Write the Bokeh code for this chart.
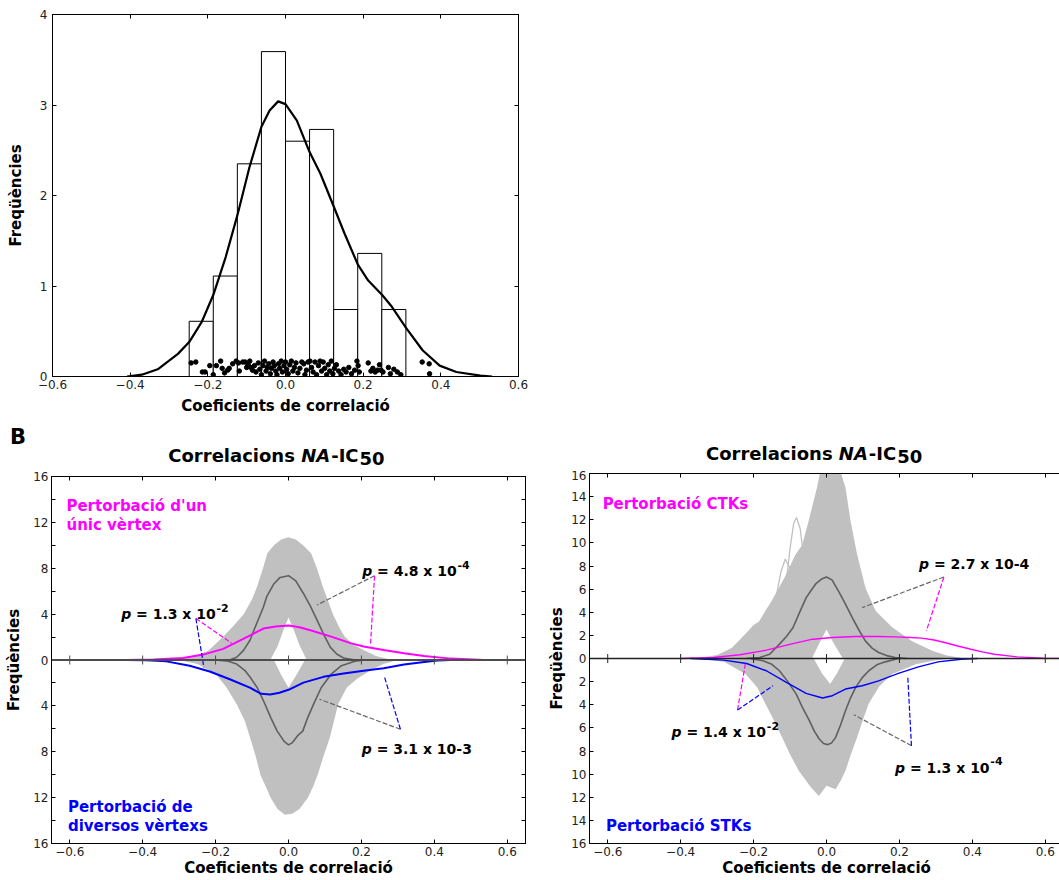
import math
from bokeh.plotting import figure
from bokeh.models import (Label, LinearAxis, FixedTicker, Range1d,
                          CustomJSTickFormatter, Span, Div)
from bokeh.layouts import column, row
from bokeh.embed import file_html
from bokeh.resources import INLINE

FONT = "DejaVu Sans"

# ---------------- Panel A : histogram, KDE, rug ----------------
hist_edges = [-0.248, -0.186, -0.124, -0.062, 0.0, 0.062, 0.124, 0.186, 0.248, 0.310]
hist_density = [0.61, 1.11, 2.35, 3.59, 2.60, 2.73, 0.74, 1.36, 0.74]

kde_x = [-0.408, -0.37, -0.329, -0.277, -0.248, -0.216, -0.186, -0.154, -0.124, -0.093,
         -0.062, -0.041, -0.019, 0.000, 0.029, 0.062, 0.090, 0.125, 0.152, 0.186,
         0.213, 0.249, 0.274, 0.310, 0.353, 0.397, 0.440, 0.502, 0.532]
kde_y = [0.0, 0.02, 0.08, 0.25, 0.38, 0.60, 0.90, 1.32, 1.78, 2.31,
         2.76, 2.94, 3.04, 3.01, 2.83, 2.48, 2.24, 1.87, 1.58, 1.24,
         1.06, 0.90, 0.77, 0.54, 0.29, 0.12, 0.05, 0.01, 0.0]

rug_x = [-0.243, -0.231, -0.214, -0.207, -0.195, -0.186, -0.178, -0.167, -0.163, -0.157,
         -0.149, -0.145, -0.136, -0.127, -0.121, -0.119, -0.110, -0.104, -0.100, -0.096,
         -0.092, -0.089, -0.085, -0.080, -0.076, -0.070, -0.066, -0.062, -0.058, -0.054,
         -0.050, -0.047, -0.043, -0.039, -0.036, -0.032, -0.029, -0.025, -0.022, -0.018,
         -0.015, -0.011, -0.008, -0.004, 0.000, 0.003, 0.007, 0.011, 0.015, 0.019,
         0.023, 0.027, 0.032, 0.037, 0.042, 0.047, 0.050, 0.054, 0.058, 0.063,
         0.067, 0.071, 0.076, 0.080, 0.085, 0.089, 0.093, 0.097, 0.101, 0.106,
         0.110, 0.114, 0.118, 0.122, 0.126, 0.131, 0.137, 0.143, 0.150, 0.156,
         0.163, 0.170, 0.178, 0.184, 0.187, 0.190, 0.213, 0.220, 0.225, 0.231,
         0.237, 0.242, 0.246, 0.251, 0.265, 0.270, 0.279, 0.288, 0.297, 0.352,
         0.370, 0.371]
rug_y = [0.15, 0.16, 0.05, 0.05, 0.12, 0.02, 0.12, 0.17, 0.09, 0.04,
         0.07, 0.09, 0.14, 0.17, 0.15, 0.06, 0.16, 0.16, 0.10, 0.13,
         0.17, 0.10, 0.07, 0.12, 0.05, 0.15, 0.08, 0.02, 0.12, 0.17,
         0.06, 0.10, 0.14, 0.03, 0.09, 0.16, 0.12, 0.06, 0.02, 0.14,
         0.09, 0.17, 0.05, 0.12, 0.16, 0.08, 0.03, 0.13, 0.17, 0.06,
         0.10, 0.15, 0.04, 0.09, 0.16, 0.14, 0.02, 0.07, 0.16, 0.17,
         0.10, 0.05, 0.16, 0.02, 0.12, 0.17, 0.06, 0.16, 0.09, 0.02,
         0.13, 0.06, 0.17, 0.03, 0.09, 0.13, 0.06, 0.02, 0.08, 0.05,
         0.10, 0.03, 0.07, 0.17, 0.12, 0.05, 0.15, 0.06, 0.09, 0.05,
         0.07, 0.13, 0.07, 0.05, 0.10, 0.03, 0.08, 0.05, 0.02, 0.16,
         0.14, 0.03]

# ---------------- Panel B left (single vertex vs several vertices) ----------------
envU_L_x = [-0.32, -0.27, -0.22, -0.18, -0.15, -0.123, -0.10, -0.086, -0.07, -0.058, -0.04, -0.02, 0.0,
            0.02, 0.04, 0.062, 0.078, 0.094, 0.108, 0.122, 0.14, 0.155, 0.18, 0.21, 0.24, 0.27, 0.30]
envU_L_y = [0, 0.2, 0.8, 2.0, 3.0, 4.0, 5.3, 6.4, 8.0, 9.3, 10.0, 10.5, 10.7,
            10.5, 10.0, 9.3, 8.0, 6.4, 5.2, 4.0, 2.8, 2.0, 1.3, 0.8, 0.35, 0.1, 0]
holeU_L_x = [-0.05, -0.03, -0.015, 0.0, 0.015, 0.03, 0.05]
holeU_L_y = [0, 1.2, 2.5, 3.7, 2.6, 1.3, 0]
envD_L_x = [-0.30, -0.25, -0.20, -0.17, -0.142, -0.12, -0.105, -0.09, -0.077, -0.06, -0.049, -0.03, -0.01,
            0.01, 0.03, 0.053, 0.068, 0.08, 0.097, 0.113, 0.125, 0.136, 0.16, 0.19, 0.22, 0.26, 0.30]
envD_L_y = [0, -0.35, -1.2, -2.4, -3.85, -5.3, -6.8, -8.4, -10.0, -11.2, -12.0, -13.0, -13.5,
            -13.4, -13.0, -12.0, -11.0, -10.0, -8.3, -6.8, -5.3, -3.85, -2.4, -1.6, -1.0, -0.35, 0]
holeD_L_x = [-0.04, -0.02, 0.0, 0.02, 0.045]
holeD_L_y = [0, -1.3, -2.4, -1.4, 0]

meanU_L_x = [-0.19, -0.16, -0.142, -0.124, -0.106, -0.087, -0.069, -0.06, -0.041, -0.023, 0.0,
             0.02, 0.041, 0.06, 0.078, 0.097, 0.115, 0.133, 0.151, 0.179, 0.21]
meanU_L_y = [0, 0.02, 0.24, 0.82, 1.7, 3.2, 4.6, 5.5, 6.6, 7.2, 7.35,
             6.9, 5.8, 4.7, 3.5, 2.2, 1.1, 0.5, 0.18, 0.02, 0]
meanD_L_x = [-0.20, -0.165, -0.142, -0.12, -0.105, -0.086, -0.068, -0.049, -0.031, -0.012, 0.0,
             0.011, 0.025, 0.039, 0.053, 0.071, 0.09, 0.118, 0.145, 0.182, 0.21]
meanD_L_y = [0, -0.1, -0.35, -0.9, -1.5, -2.4, -3.6, -5.0, -6.2, -7.1, -7.4,
             -7.2, -6.6, -6.2, -5.0, -3.7, -2.4, -1.2, -0.5, -0.1, 0]

single_L_x = [-0.445, -0.37, -0.289, -0.234, -0.179, -0.124, -0.069, -0.035, 0.0, 0.03,
              0.06, 0.115, 0.17, 0.206, 0.261, 0.317, 0.372, 0.445, 0.537]
single_L_y = [0, 0.05, 0.18, 0.47, 0.97, 1.85, 2.74, 2.93, 3.0, 2.85,
              2.59, 2.06, 1.47, 1.18, 0.88, 0.59, 0.35, 0.12, 0]
multi_L_x = [-0.445, -0.39, -0.335, -0.271, -0.216, -0.161, -0.106, -0.075, -0.05, -0.025,
             0.0, 0.041, 0.096, 0.151, 0.206, 0.261, 0.317, 0.372, 0.408, 0.445]
multi_L_y = [0, -0.03, -0.12, -0.5, -1.0, -1.68, -2.41, -2.95, -3.0, -2.85,
             -2.6, -1.97, -1.47, -1.18, -0.94, -0.71, -0.40, -0.17, -0.05, 0]

# ---------------- Panel B right (CTKs vs STKs) ----------------
envU_R_x = [-0.36, -0.30, -0.26, -0.22, -0.20, -0.185, -0.168, -0.15, -0.131, -0.115, -0.10, -0.085, -0.067,
            -0.049, -0.026, -0.015, 0.035, 0.052, 0.066, 0.084, 0.107, 0.135, 0.18, 0.235, 0.29, 0.33, 0.38]
envU_R_y = [0, 0.3, 0.9, 2.2, 2.9, 3.2, 4.1, 5.0, 6.1, 7.0, 8.0, 9.0, 9.8,
            11.9, 14.8, 16.5, 16.5, 14.8, 11.9, 9.0, 6.1, 4.1, 2.7, 1.5, 0.66, 0.25, 0]
holeU_R_x = [-0.04, -0.02, 0.0, 0.02, 0.045]
holeU_R_y = [0, 1.3, 2.5, 1.3, 0]
envD_R_x = [-0.34, -0.28, -0.222, -0.19, -0.168, -0.145, -0.122, -0.10, -0.076, -0.06, -0.044, -0.021, 0.0,
            0.025, 0.04, 0.052, 0.068, 0.084, 0.10, 0.116, 0.145, 0.18, 0.245, 0.30, 0.345]
envD_R_y = [0, -0.3, -1.35, -2.5, -3.9, -5.3, -6.8, -8.3, -9.7, -10.4, -11.1, -11.9, -11.0,
            -11.3, -10.5, -9.7, -8.2, -6.8, -5.3, -3.9, -2.4, -1.35, -0.5, -0.15, 0]
holeD_R_x = [-0.035, -0.012, 0.01, 0.03, 0.05]
holeD_R_y = [0, -1.3, -2.2, -1.2, 0]
loop1_R_x = [-0.17, -0.14, -0.125, -0.113, -0.10, -0.085, -0.065]
loop1_R_y = [2.0, 5.0, 7.5, 8.6, 7.8, 5.0, 2.5]
loop2_R_x = [-0.12, -0.10, -0.09, -0.082, -0.072, -0.06, -0.045]
loop2_R_y = [4.0, 9.5, 11.7, 12.2, 11.2, 8.0, 5.0]

meanU_R_x = [-0.22, -0.183, -0.156, -0.129, -0.11, -0.092, -0.075, -0.056, -0.042, -0.029, -0.012, 0.0,
             0.015, 0.034, 0.052, 0.071, 0.09, 0.107, 0.125, 0.143, 0.165, 0.188, 0.22]
meanU_R_y = [0, 0.09, 0.37, 1.24, 1.9, 2.66, 3.9, 5.24, 5.9, 6.47, 6.9, 7.05,
             6.8, 5.76, 4.7, 3.51, 2.4, 1.5, 0.9, 0.52, 0.25, 0.09, 0]
meanD_R_x = [-0.21, -0.174, -0.15, -0.129, -0.106, -0.083, -0.065, -0.047, -0.033, -0.02, -0.008, 0.003,
             0.014, 0.025, 0.038, 0.052, 0.066, 0.08, 0.097, 0.116, 0.138, 0.161, 0.197]
meanD_R_y = [0, -0.2, -0.5, -1.06, -2.0, -3.08, -4.3, -5.38, -6.3, -6.96, -7.35, -7.45,
             -7.3, -6.82, -5.8, -4.52, -3.4, -2.5, -1.7, -1.06, -0.55, -0.29, 0]

ctk_R_x = [-0.40, -0.31, -0.237, -0.165, -0.092, -0.038, 0.016, 0.08, 0.14, 0.188, 0.23,
           0.261, 0.295, 0.324, 0.36, 0.396, 0.43, 0.46, 0.523, 0.595, 0.65]
ctk_R_y = [0, 0.09, 0.32, 0.72, 1.29, 1.67, 1.81, 1.9, 1.9, 1.87, 1.82,
           1.76, 1.6, 1.38, 1.08, 0.8, 0.55, 0.37, 0.14, 0.03, 0.01]
stk_R_x = [-0.373, -0.282, -0.219, -0.165, -0.11, -0.056, -0.011, 0.016, 0.052, 0.098,
           0.143, 0.197, 0.252, 0.306, 0.369, 0.414]
stk_R_y = [0, -0.14, -0.43, -1.06, -2.07, -3.02, -3.42, -3.22, -2.64, -2.36,
           -1.93, -1.29, -0.72, -0.29, -0.06, 0]

# ---------------- annotations (p-values and dashed pointers) ----------------
pv_L = [(-0.459, 4.0, "1.3 x 10", "-2"), (0.202, 7.74, "4.8 x 10", "-4"), (0.201, -7.8, "3.1 x 10-3", "")]
pv_R = [(0.254, 8.14, "2.7 x 10-4", ""), (-0.425, -6.39, "1.4 x 10", "-2"), (0.188, -9.47, "1.3 x 10", "-4")]
ptr_L = [(-0.254, 3.62, -0.156, 1.47, "#ff00ff"), (-0.254, 3.62, -0.232, -0.65, "#0000ff"),
         (0.236, 7.35, 0.078, 4.79, "#666666"), (0.236, 7.35, 0.225, 1.41, "#ff00ff"),
         (0.307, -6.04, 0.085, -3.42, "#666666"), (0.307, -6.04, 0.263, -1.46, "#0000ff")]
ptr_R = [(0.322, 7.05, 0.098, 4.4, "#666666"), (0.322, 7.05, 0.274, 2.39, "#ff00ff"),
         (-0.244, -4.46, -0.222, -0.35, "#ff00ff"), (-0.244, -4.46, -0.147, -2.36, "#0000ff"),
         (0.233, -7.54, 0.075, -4.86, "#666666"), (0.233, -7.54, 0.223, -1.64, "#0000ff")]

x_ticks = [-0.6, -0.4, -0.2, 0.0, 0.2, 0.4, 0.6]
yA_ticks = [0, 1, 2, 3, 4]
yB_ticks = list(range(-16, 17, 2))

XFMT = "var a = Math.abs(tick).toFixed(1); return (tick < -1e-9) ? '\u2212' + a : a;"
YA_FMT = "return tick.toFixed(0);"
YL_FMT = "var a = Math.round(Math.abs(tick)); return (a % 4 === 0) ? String(a) : '';"
YR_FMT = "return String(Math.round(Math.abs(tick)));"


def make_fig(fw, fh, xr, yr, bl, br, bt, bb):
    p = figure(frame_width=fw, frame_height=fh, x_range=Range1d(*xr), y_range=Range1d(*yr),
               output_backend="svg", toolbar_location=None,
               min_border_left=bl, min_border_right=br, min_border_top=bt, min_border_bottom=bb,
               background_fill_color="white", border_fill_color="white")
    p.grid.visible = False
    p.outline_line_color = "black"
    p.outline_line_width = 1
    return p


def style_axis(ax, ticks, code, lab_standoff, label, label_standoff):
    ax.ticker = FixedTicker(ticks=ticks, minor_ticks=[])
    ax.formatter = CustomJSTickFormatter(code=code)
    ax.major_tick_in = 4
    ax.major_tick_out = 0
    ax.minor_tick_in = 0
    ax.minor_tick_out = 0
    ax.major_tick_line_color = "black"
    ax.axis_line_color = "black"
    ax.major_label_text_font = FONT
    ax.major_label_text_font_size = "12px"
    ax.major_label_text_color = "#222222"
    ax.major_label_standoff = lab_standoff
    ax.axis_label = label
    ax.axis_label_standoff = label_standoff
    ax.axis_label_text_font = FONT
    ax.axis_label_text_font_style = "bold"
    ax.axis_label_text_font_size = "15px"
    ax.axis_label_text_color = "black"


def mirror_axes(p, xt, yt):
    for loc, t in (("above", xt), ("right", yt)):
        ax = LinearAxis(ticker=FixedTicker(ticks=t, minor_ticks=[]),
                        formatter=CustomJSTickFormatter(code="return '';"),
                        major_tick_in=4, major_tick_out=0, minor_tick_in=0, minor_tick_out=0,
                        major_label_text_font_size="0px", major_label_standoff=0,
                        axis_line_color="black", major_tick_line_color="black")
        p.add_layout(ax, loc)


def txt(p, x, y, s, size, color="black", style="bold", xo=0, yo=0):
    p.add_layout(Label(x=x, y=y, x_offset=xo, y_offset=yo, text=s, text_font=FONT,
                       text_font_size=size, text_font_style=style, text_color=color,
                       text_align="left", text_baseline="alphabetic"))


BOLD_W = {" ": 0.348, "=": 0.838, ".": 0.380, "x": 0.663, "-": 0.415}


def bold_width(s, size):
    return sum(BOLD_W.get(c, 0.696) for c in s) * size


def pval(p, x, y, main, sup):
    fs = 14
    txt(p, x, y, "p", f"{fs}px", style="bold italic")
    x_body = (0.716 + 0.348) * fs
    body = "= " + main
    txt(p, x, y, body, f"{fs}px", xo=x_body)
    if sup:
        txt(p, x, y, sup, "11px", xo=x_body + bold_width(body, fs) + 0.5, yo=6.5)


def title_div(width, height, left, top, letter=""):
    letter_html = ""
    if letter:
        letter_html = ('<span style="position:absolute;left:10px;top:7px;font-size:21px;'
                       'line-height:21px;">' + letter + '</span>')
    html = ('<div style="position:relative;width:%dpx;height:%dpx;font-family:\'DejaVu Sans\';'
            'font-weight:bold;color:black;">%s'
            '<span style="position:absolute;left:%.1fpx;top:%.1fpx;font-size:18px;line-height:18px;'
            'white-space:nowrap;">Correlacions <i>NA</i><span style="margin-left:1px;">-IC</span>'
            '<span style="position:relative;top:3.3px;margin-left:1px;">50</span></span></div>'
            % (width, height, letter_html, left, top))
    return Div(text=html, width=width, height=height, margin=(0, 0, 0, 0))


# ================= Panel A =================
pA = make_fig(466, 362, (-0.6, 0.6), (0, 4), 52, 10, 14, 44)
style_axis(pA.xaxis[0], x_ticks, XFMT, 3, "Coeficients de correlació", 5)
style_axis(pA.yaxis[0], yA_ticks, YA_FMT, 5, "Freqüències", 12)
mirror_axes(pA, x_ticks, yA_ticks)
pA.quad(left=hist_edges[:-1], right=hist_edges[1:], bottom=0, top=hist_density,
        fill_color="white", line_color="black", line_width=1)
pA.scatter(rug_x, rug_y, size=4.5, color="black")
pA.line(kde_x, kde_y, line_color="black", line_width=2.2, line_join="round")


# ================= Panel B =================
def panel_B(fw, fh, bl, br, bt, yfmt, lab_standoff, axlab_standoff, data, mag_w, zero_w, zero_col):
    p = make_fig(fw, fh, (-0.65, 0.65), (-16, 16), bl, br, bt, 37)
    style_axis(p.xaxis[0], x_ticks, XFMT, 3, "Coeficients de correlació", 0)
    style_axis(p.yaxis[0], yB_ticks, yfmt, lab_standoff, "Freqüències", axlab_standoff)
    mirror_axes(p, x_ticks, yB_ticks)
    (eux, euy, hux, huy, edx, edy, hdx, hdy, mux, muy, mdx, mdy, cx, cy, bx, by, loops) = data
    grey = "#c0c0c0"
    p.varea(x=eux, y1=[0] * len(eux), y2=euy, fill_color=grey)
    p.varea(x=edx, y1=[0] * len(edx), y2=edy, fill_color=grey)
    for lx, ly in loops:
        p.line(lx, ly, line_color=grey, line_width=1.3)
    p.varea(x=hux, y1=[0] * len(hux), y2=huy, fill_color="white")
    p.varea(x=hdx, y1=[0] * len(hdx), y2=hdy, fill_color="white")
    p.line(mux, muy, line_color="#5f5f5f", line_width=1.6)
    p.line(mdx, mdy, line_color="#5f5f5f", line_width=1.6)
    p.line(cx, cy, line_color="#ff00ff", line_width=mag_w)
    p.line(bx, by, line_color="#0000ff", line_width=mag_w)
    p.add_layout(Span(location=0, dimension="width", line_color=zero_col, line_width=zero_w))
    p.scatter(x_ticks, [0] * len(x_ticks), marker="dash", size=9, angle=math.pi / 2,
              line_color=zero_col, line_width=1)
    return p


# left bottom panel: figure x 0..537, frame 51..525, frame y 476..843
pL = panel_B(474, 367, 51, 12, 6, YL_FMT, 3, 7,
             (envU_L_x, envU_L_y, holeU_L_x, holeU_L_y, envD_L_x, envD_L_y, holeD_L_x, holeD_L_y,
              meanU_L_x, meanU_L_y, meanD_L_x, meanD_L_y, single_L_x, single_L_y,
              multi_L_x, multi_L_y, []), 2.0, 2.0, "#4d4d4d")
# right bottom panel: figure starts at x 537, frame at 589, frame y 473..843
pR = panel_B(474, 370, 52, 10, 3, YR_FMT, 3, 2,
             (envU_R_x, envU_R_y, holeU_R_x, holeU_R_y, envD_R_x, envD_R_y, holeD_R_x, holeD_R_y,
              meanU_R_x, meanU_R_y, meanD_R_x, meanD_R_y, ctk_R_x, ctk_R_y,
              stk_R_x, stk_R_y, [(loop1_R_x, loop1_R_y), (loop2_R_x, loop2_R_y)]), 1.4, 1.6, "#222222")

for p, ptrs, pvs in ((pL, ptr_L, pv_L), (pR, ptr_R, pv_R)):
    p.segment(x0=[s[0] for s in ptrs], y0=[s[1] for s in ptrs],
              x1=[s[2] for s in ptrs], y1=[s[3] for s in ptrs],
              line_color=[s[4] for s in ptrs], line_dash="5 2", line_width=1.2)
    for (x, y, main, sup) in pvs:
        pval(p, x, y, main, sup)

# category labels
txt(pL, -0.609, 13.43, "Pertorbació d'un", "15px", color="#ff00ff")
txt(pL, -0.609, 11.77, "únic vèrtex", "15px", color="#ff00ff")
txt(pL, -0.605, -12.82, "Pertorbació de", "15px", color="#0000ff")
txt(pL, -0.605, -14.45, "diversos vèrtexs", "15px", color="#0000ff")
txt(pR, -0.614, 13.38, "Pertorbació CTKs", "15px", color="#ff00ff")
txt(pR, -0.605, -14.45, "Pertorbació STKs", "15px", color="#0000ff")

# title strips (page y 420..470)
tL = title_div(537, 50, 168.3, 26.5, letter="B")
tR = title_div(536, 50, 169.0, 24.8)

layout = column(pA, row(column(tL, pL), column(tR, pR)))
html = file_html(layout, INLINE, title="Correlacions NA-IC50")
html = html.replace("<head>", "<head>\n<style>html, body {margin: 0; padding: 0; overflow: hidden;}</style>", 1)
open("out.html", "w").write(html)
